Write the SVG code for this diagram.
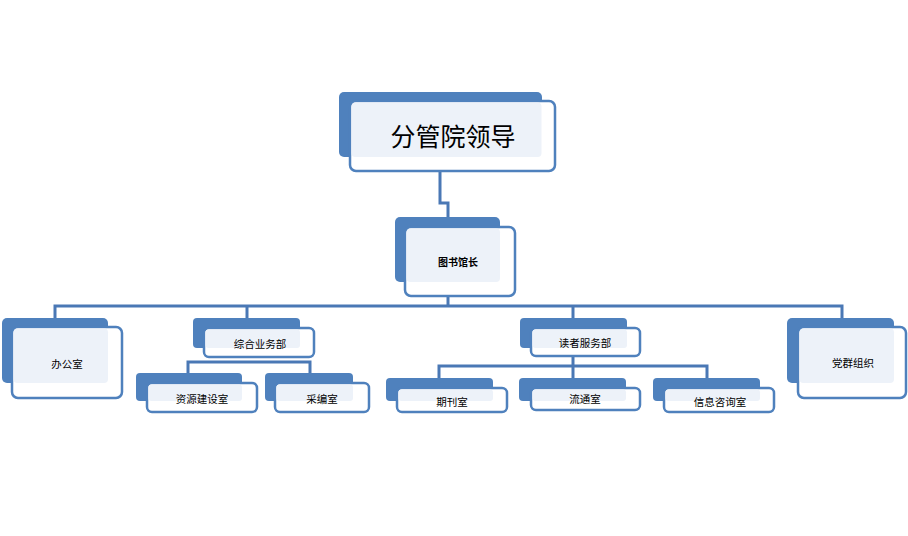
<svg xmlns="http://www.w3.org/2000/svg" width="908" height="536" viewBox="0 0 908 536">
<style>
.back{fill:#4f81bd;}
.front{fill:#ffffff;stroke:#4f81bd;stroke-width:2.5;}
.inner{fill:#edf2f9;}
.conn{fill:none;stroke:#4a78b5;stroke-width:3;}
.lbl{font-family:"Noto Sans CJK SC","Liberation Sans",sans-serif;font-size:10.5px;fill:#000;text-anchor:middle;dominant-baseline:central;}
</style>
<rect width="908" height="536" fill="#ffffff"/>
<g id="connectors">
<path class="conn" d="M440,171 V203 H448 V218"/>
<path class="conn" d="M448,296 V306"/>
<path class="conn" d="M55,318 V306 H842 V318"/>
<path class="conn" d="M247,306 V318"/>
<path class="conn" d="M573,306 V318"/>
<path class="conn" d="M188,373 V362 H310 V373"/>
<path class="conn" d="M439,378 V366 H707 V378"/>
<path class="conn" d="M573,356 V378"/>
</g>
<g id="n-top">
<rect class="back" x="339" y="92" width="203" height="65" rx="5"/>
<rect class="front" x="350" y="101" width="205" height="70" rx="6"/>
<rect class="inner" x="351.5" y="102.5" width="190" height="54.5" rx="4"/>
<text class="lbl" x="453" y="135" style="font-size:25px">分管院领导</text>
</g>
<g id="n-director">
<rect class="back" x="395" y="217" width="105" height="65" rx="5"/>
<rect class="front" x="405" y="227" width="110" height="69" rx="6"/>
<rect class="inner" x="406.5" y="228.5" width="93.5" height="53.5" rx="4"/>
<text class="lbl" x="458" y="261" style="font-size:10px;font-weight:bold">图书馆长</text>
</g>
<g id="n-office">
<rect class="back" x="2" y="318" width="106" height="65" rx="5"/>
<rect class="front" x="12" y="327" width="110" height="71" rx="6"/>
<rect class="inner" x="13.5" y="328.5" width="94.5" height="54.5" rx="4"/>
<text class="lbl" x="67" y="363">办公室</text>
</g>
<g id="n-general">
<rect class="back" x="193" y="318" width="107" height="30" rx="4"/>
<rect class="front" x="204" y="328" width="110" height="29" rx="5"/>
<rect class="inner" x="205.5" y="329.5" width="94.5" height="18.5" rx="3"/>
<text class="lbl" x="260" y="343">综合业务部</text>
</g>
<g id="n-resource">
<rect class="back" x="136" y="373" width="106" height="28" rx="4"/>
<rect class="front" x="147" y="383" width="110" height="29" rx="5"/>
<rect class="inner" x="148.5" y="384.5" width="93.5" height="16.5" rx="3"/>
<text class="lbl" x="202" y="398">资源建设室</text>
</g>
<g id="n-catalog">
<rect class="back" x="265" y="373" width="88" height="28" rx="4"/>
<rect class="front" x="275" y="383" width="94" height="29" rx="5"/>
<rect class="inner" x="276.5" y="384.5" width="76.5" height="16.5" rx="3"/>
<text class="lbl" x="322" y="398">采编室</text>
</g>
<g id="n-reader">
<rect class="back" x="520" y="318" width="107" height="30" rx="4"/>
<rect class="front" x="531" y="328" width="109" height="28" rx="5"/>
<rect class="inner" x="532.5" y="329.5" width="94.5" height="18.5" rx="3"/>
<text class="lbl" x="585" y="342">读者服务部</text>
</g>
<g id="n-periodical">
<rect class="back" x="386" y="378" width="107" height="23" rx="4"/>
<rect class="front" x="397" y="388" width="110" height="24" rx="5"/>
<rect class="inner" x="398.5" y="389.5" width="94.5" height="11.5" rx="3"/>
<text class="lbl" x="452" y="401">期刊室</text>
</g>
<g id="n-circulation">
<rect class="back" x="519" y="378" width="107" height="23" rx="4"/>
<rect class="front" x="531" y="388" width="109" height="22" rx="5"/>
<rect class="inner" x="532.5" y="389.5" width="93.5" height="11.5" rx="3"/>
<text class="lbl" x="585" y="398">流通室</text>
</g>
<g id="n-info">
<rect class="back" x="653" y="378" width="107" height="23" rx="4"/>
<rect class="front" x="664" y="388" width="110" height="24" rx="5"/>
<rect class="inner" x="665.5" y="389.5" width="94.5" height="11.5" rx="3"/>
<text class="lbl" x="720" y="401">信息咨询室</text>
</g>
<g id="n-party">
<rect class="back" x="787" y="318" width="107" height="65" rx="5"/>
<rect class="front" x="798" y="327" width="108" height="71" rx="6"/>
<rect class="inner" x="799.5" y="328.5" width="94.5" height="54.5" rx="4"/>
<text class="lbl" x="853" y="362">党群组织</text>
</g>
</svg>
